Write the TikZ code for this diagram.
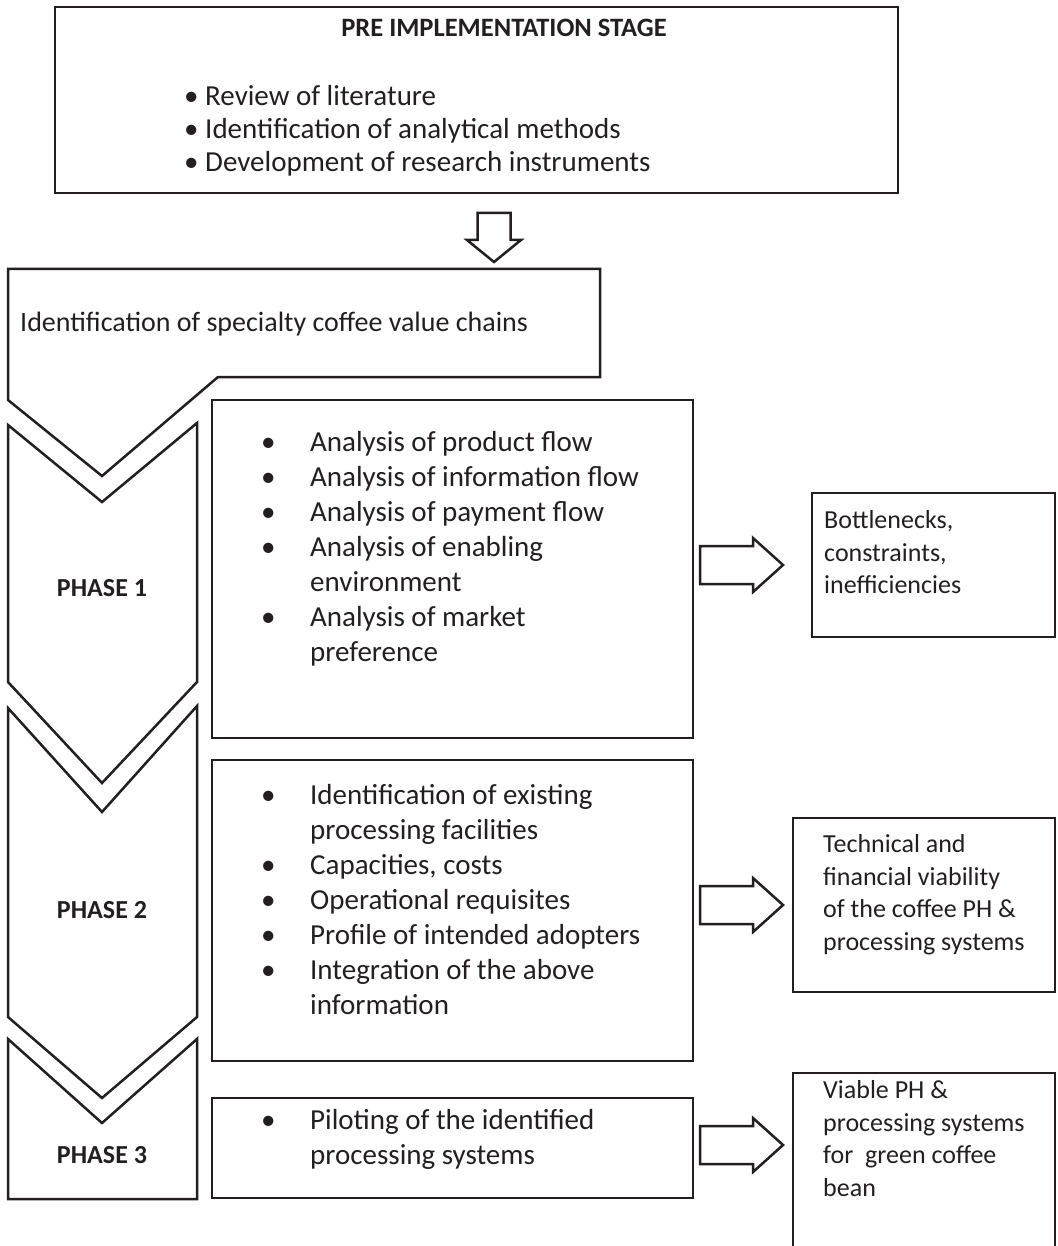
\documentclass[tikz,border=0pt]{standalone}
\usepackage{fontspec}
\setmainfont{Carlito}
\definecolor{encre}{HTML}{231F20}

\begin{document}
\begin{tikzpicture}[x=1pt,y=-1pt]
	\tikzstyle{trait}=[draw=encre,line width=2.5pt]
	\tikzstyle{boite}=[trait,rectangle,inner sep=0pt]
	\tikzstyle{titre}=[inner sep=0pt,text=encre,font=\fontsize{26.5}{31}\selectfont\bfseries]
	\tikzstyle{phase}=[inner sep=0pt,text=encre,font=\fontsize{26}{31}\selectfont\bfseries]
	\tikzstyle{liste}=[anchor=north west,inner sep=0pt,align=left,text=encre,execute at begin node=\strut]
	\tikzstyle{grand}=[liste,font=\fontsize{29}{35}\selectfont]
	\tikzstyle{petit}=[liste,font=\fontsize{26}{32.5}\selectfont]
	
	\def\Puce{\makebox[49pt][l]{\textbullet}}
	\def\Retrait{\hspace*{49pt}}
	\def\FlecheDroite#1{\draw[trait] ([yshift=19pt]#1) -- ++(53,0) -- ++(0,-8) -- ++(30,27) -- ++(-30,27) -- ++(0,-8) -- ++(-53,0) -- cycle;}
	
	\useasboundingbox (0,0) rectangle (1057,1246);
	
	% etape preliminaire
	\node[boite,minimum width=843pt,minimum height=186pt] (Pre) at (476.5,100) {};
	\node[titre] (PreTitre) at (504,28) {PRE IMPLEMENTATION STAGE};
	\node[liste,font=\fontsize{29}{33}\selectfont] (PreTexte) at (184,85) {\textbullet{} Review of literature\\
		\textbullet{} Identification of analytical methods\\
		\textbullet{} Development of research instruments};
	
	\coordinate (Bas) at (494,213);
	\draw[trait] ([xshift=-16.5pt]Bas) -- ++(0,27) -- ++(-10.5,0) -- ++(27,22) -- ++(27,-22) -- ++(-10.5,0) -- ++(0,-27) -- cycle;
	
	% chevrons
	\draw[trait] (8,269) -- (600,269) -- (600,377) -- (218,377) -- (102,476) -- (8,400) -- cycle;
	\node[anchor=base west,inner sep=0pt,text=encre,font=\fontsize{28}{33}\selectfont] (Chaines) at (20,331) {Identification of specialty coffee value chains};
	
	\draw[trait] (8,425) -- (102,502) -- (197,423) -- (197,682) -- (102,783) -- (8,682) -- cycle;
	\draw[trait] (8,708) -- (102,812) -- (197,706) -- (197,1017) -- (102,1098) -- (8,1017) -- cycle;
	\draw[trait] (8,1039) -- (102,1123) -- (197,1039) -- (197,1199) -- (8,1199) -- cycle;
	\node[phase] (P1) at (102,588) {PHASE 1};
	\node[phase] (P2) at (102,910) {PHASE 2};
	\node[phase] (P3) at (102,1155) {PHASE 3};
	
	% activites
	\node[boite,minimum width=481pt,minimum height=338pt] (B1) at (452.5,569) {};
	\node[grand] (T1) at (261,431.5) {\Puce Analysis of product flow\\
		\Puce Analysis of information flow\\
		\Puce Analysis of payment flow\\
		\Puce Analysis of enabling\\
		\Retrait environment\\
		\Puce Analysis of market\\
		\Retrait preference};
	\node[boite,minimum width=481pt,minimum height=301pt] (B2) at (452.5,910.5) {};
	\node[grand] (T2) at (261,784.5) {\Puce Identification of existing\\
		\Retrait processing facilities\\
		\Puce Capacities, costs\\
		\Puce Operational requisites\\
		\Puce Profile of intended adopters\\
		\Puce Integration of the above\\
		\Retrait information};
	\node[boite,minimum width=481pt,minimum height=100pt] (B3) at (452.5,1148) {};
	\node[grand] (T3) at (261,1109.5) {\Puce Piloting of the identified\\
		\Retrait processing systems};
	
	% resultats
	\coordinate (F1) at (700,565);
	\coordinate (F2) at (700,905);
	\coordinate (F3) at (700,1145);
	\FlecheDroite{F1}
	\FlecheDroite{F2}
	\FlecheDroite{F3}
	
	\node[boite,minimum width=243pt,minimum height=144pt] (RA) at (933.5,565) {};
	\node[petit] (TA) at (824,510.25) {Bottlenecks,\\constraints,\\inefficiencies};
	\node[boite,minimum width=262pt,minimum height=174pt] (RB) at (924,905) {};
	\node[petit] (TB) at (823,834.25) {Technical and\\financial viability\\of the coffee PH \&\\processing systems};
	\node[boite,minimum width=262pt,minimum height=227pt] (RC) at (924,1186.5) {};
	\node[petit] (TC) at (823,1080.25) {Viable PH \&\\processing systems\\for\ \ green coffee\\bean};
\end{tikzpicture}
\end{document}
